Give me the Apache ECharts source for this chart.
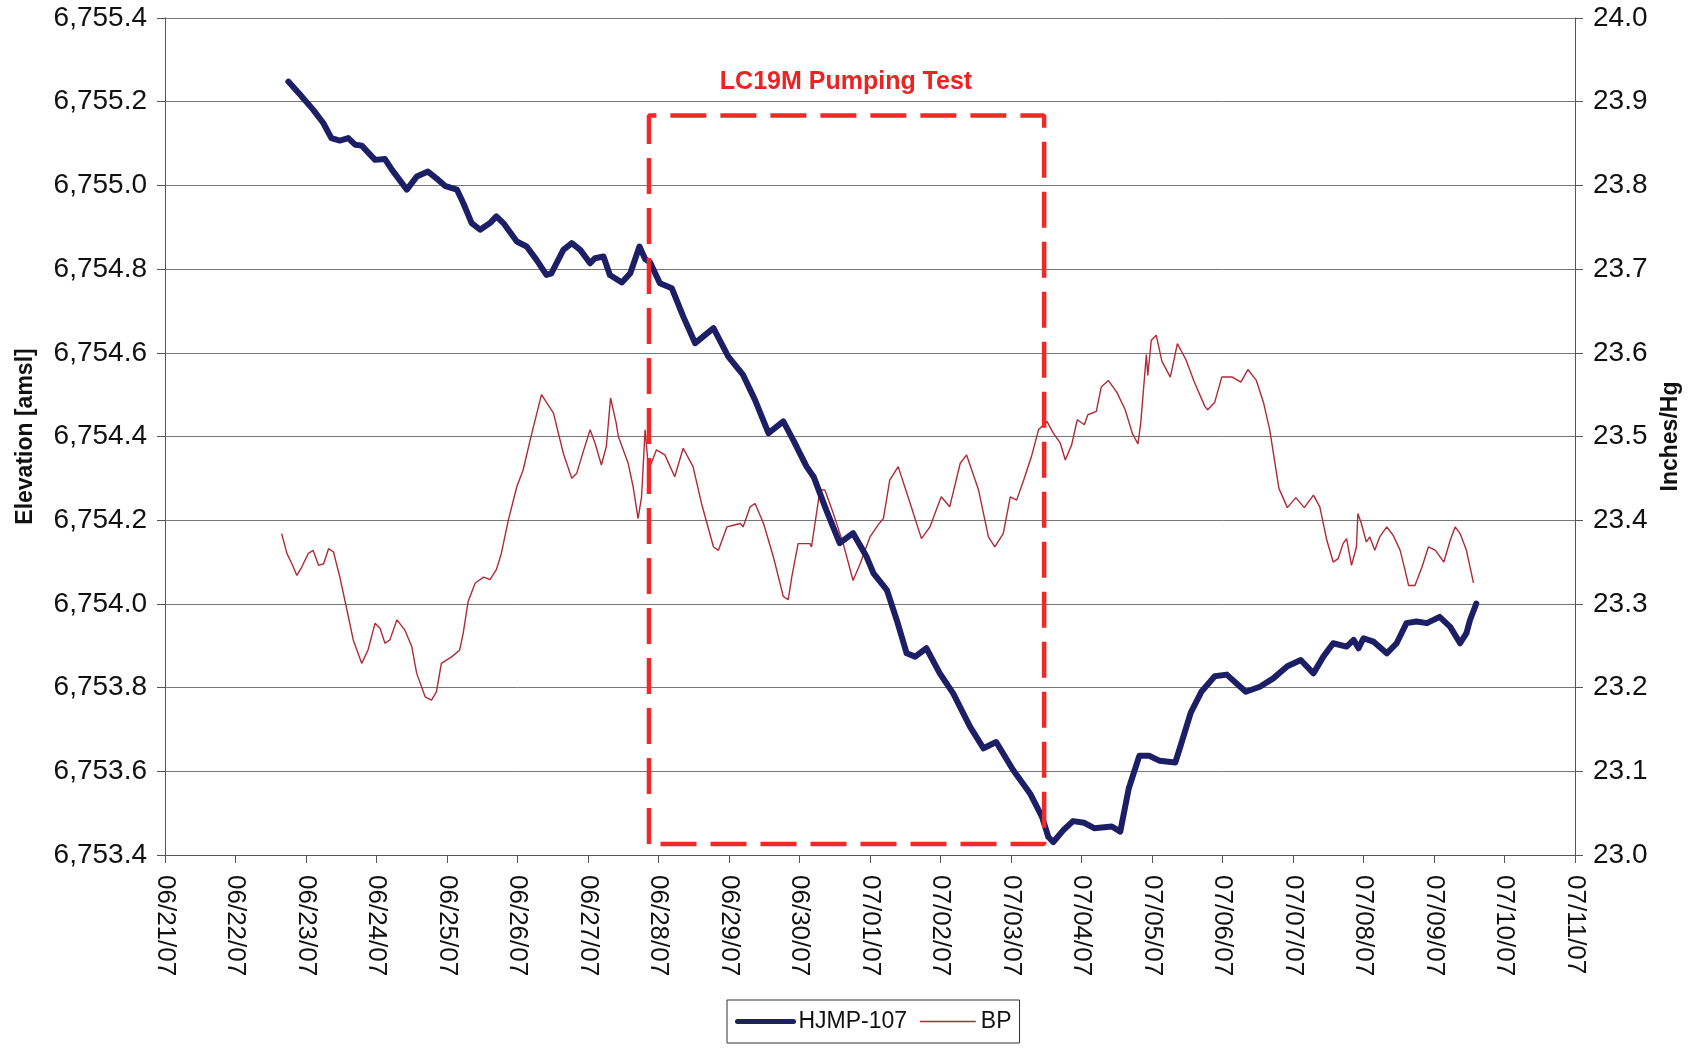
<!DOCTYPE html>
<html>
<head>
<meta charset="utf-8">
<title>HJMP-107 vs BP</title>
<script src="https://cdn.jsdelivr.net/npm/echarts@6/dist/echarts.min.js"></script>
<style>
  html, body { margin: 0; padding: 0; background: #fff; }
  #chart { width: 1696px; height: 1050px; }
</style>
</head>
<body>
<div id="chart"></div>
<script>
// x values are days since 06/21/07 00:00
const dateLabels = ['06/21/07', '06/22/07', '06/23/07', '06/24/07', '06/25/07', '06/26/07', '06/27/07',
  '06/28/07', '06/29/07', '06/30/07', '07/01/07', '07/02/07', '07/03/07', '07/04/07', '07/05/07',
  '07/06/07', '07/07/07', '07/08/07', '07/09/07', '07/10/07', '07/11/07'];

// HJMP-107 water level, ft amsl (left axis)
const hjmpDay = [1.75, 1.915, 2.10, 2.245, 2.36, 2.48, 2.60, 2.70, 2.79, 2.98, 3.12, 3.22, 3.43, 3.57, 3.73,
  3.85, 3.97, 4.14, 4.23, 4.35, 4.47, 4.61, 4.70, 4.80, 4.99, 5.13, 5.27, 5.41, 5.48, 5.65, 5.77, 5.89,
  6.03, 6.10, 6.22, 6.31, 6.48, 6.60, 6.73, 6.81, 6.88, 7.02, 7.19, 7.35, 7.52, 7.78, 7.99, 8.20, 8.37,
  8.56, 8.77, 8.91, 9.10, 9.20, 9.38, 9.57, 9.76, 9.95, 10.05, 10.24, 10.38, 10.52, 10.64, 10.80, 10.99,
  11.18, 11.42, 11.61, 11.79, 12.03, 12.27, 12.44, 12.53, 12.60, 12.74, 12.88, 13.04, 13.18, 13.43, 13.55,
  13.67, 13.82, 13.96, 14.11, 14.33, 14.40, 14.55, 14.70, 14.89, 15.06, 15.33, 15.53, 15.72, 15.92, 16.11,
  16.29, 16.43, 16.57, 16.76, 16.86, 16.93, 17.00, 17.14, 17.33, 17.47, 17.61, 17.75, 17.90, 18.08, 18.23,
  18.37, 18.46, 18.51, 18.60];
const hjmpElev = [6755.248, 6755.217, 6755.181, 6755.149, 6755.113, 6755.107, 6755.113, 6755.097, 6755.095,
  6755.061, 6755.063, 6755.037, 6754.990, 6755.021, 6755.033, 6755.017, 6754.999, 6754.990, 6754.958,
  6754.910, 6754.894, 6754.910, 6754.926, 6754.910, 6754.866, 6754.854, 6754.822, 6754.786, 6754.790,
  6754.846, 6754.862, 6754.846, 6754.814, 6754.826, 6754.830, 6754.786, 6754.768, 6754.790, 6754.854,
  6754.824, 6754.816, 6754.766, 6754.754, 6754.687, 6754.623, 6754.659, 6754.591, 6754.547, 6754.487,
  6754.408, 6754.436, 6754.392, 6754.328, 6754.304, 6754.224, 6754.145, 6754.169, 6754.113, 6754.073,
  6754.033, 6753.961, 6753.882, 6753.874, 6753.894, 6753.834, 6753.786, 6753.706, 6753.655, 6753.670,
  6753.603, 6753.547, 6753.491, 6753.443, 6753.431, 6753.459, 6753.481, 6753.477, 6753.464, 6753.468,
  6753.456, 6753.559, 6753.637, 6753.637, 6753.625, 6753.621, 6753.658, 6753.740, 6753.790, 6753.827,
  6753.831, 6753.790, 6753.802, 6753.822, 6753.851, 6753.866, 6753.834, 6753.874, 6753.906, 6753.898,
  6753.914, 6753.894, 6753.918, 6753.910, 6753.882, 6753.906, 6753.954, 6753.958, 6753.954, 6753.969,
  6753.945, 6753.906, 6753.930, 6753.961, 6754.001];

// barometric pressure, inches Hg (right axis)
const bpDay = [1.655, 1.73, 1.80, 1.87, 1.94, 2.03, 2.10, 2.18, 2.25, 2.32, 2.39, 2.48, 2.58, 2.67, 2.79,
  2.88, 2.98, 3.05, 3.12, 3.19, 3.29, 3.40, 3.50, 3.57, 3.69, 3.78, 3.85, 3.92, 4.07, 4.18, 4.23, 4.30,
  4.40, 4.52, 4.61, 4.70, 4.77, 4.87, 4.99, 5.08, 5.18, 5.34, 5.51, 5.65, 5.77, 5.84, 5.94, 6.03, 6.10,
  6.19, 6.26, 6.32, 6.40, 6.43, 6.57, 6.64, 6.71, 6.76, 6.81, 6.86, 6.97, 7.09, 7.23, 7.35, 7.49, 7.61,
  7.78, 7.85, 7.97, 8.06, 8.16, 8.20, 8.30, 8.37, 8.49, 8.63, 8.77, 8.84, 8.89, 8.98, 9.15, 9.17, 9.29,
  9.36, 9.48, 9.62, 9.76, 9.86, 10.00, 10.12, 10.19, 10.28, 10.40, 10.57, 10.73, 10.85, 11.01, 11.13,
  11.28, 11.37, 11.54, 11.68, 11.77, 11.89, 11.99, 12.08, 12.18, 12.29, 12.39, 12.51, 12.60, 12.70, 12.77,
  12.86, 12.94, 13.04, 13.09, 13.21, 13.28, 13.38, 13.50, 13.62, 13.72, 13.80, 13.84, 13.92, 13.94, 13.99,
  14.06, 14.14, 14.26, 14.36, 14.48, 14.60, 14.75, 14.79, 14.89, 14.99, 15.14, 15.26, 15.36, 15.48, 15.58,
  15.67, 15.80, 15.92, 16.04, 16.16, 16.29, 16.38, 16.48, 16.57, 16.64, 16.71, 16.76, 16.83, 16.90, 16.92,
  16.97, 17.04, 17.09, 17.16, 17.23, 17.33, 17.42, 17.52, 17.59, 17.64, 17.73, 17.83, 17.92, 18.02, 18.14,
  18.23, 18.30, 18.37, 18.46, 18.56];
const bpInHg = [23.384, 23.360, 23.348, 23.334, 23.344, 23.360, 23.364, 23.346, 23.348, 23.366, 23.362,
  23.332, 23.293, 23.257, 23.229, 23.245, 23.277, 23.271, 23.253, 23.257, 23.281, 23.269, 23.249, 23.217,
  23.189, 23.185, 23.195, 23.229, 23.237, 23.245, 23.265, 23.303, 23.325, 23.332, 23.329, 23.341, 23.360,
  23.400, 23.440, 23.460, 23.496, 23.550, 23.528, 23.480, 23.450, 23.456, 23.484, 23.508, 23.492, 23.466,
  23.488, 23.546, 23.516, 23.500, 23.468, 23.440, 23.402, 23.428, 23.508, 23.460, 23.484, 23.478, 23.452,
  23.486, 23.464, 23.420, 23.368, 23.364, 23.392, 23.394, 23.396, 23.392, 23.416, 23.420, 23.396, 23.356,
  23.309, 23.305, 23.332, 23.372, 23.372, 23.368, 23.436, 23.436, 23.408, 23.372, 23.328, 23.348, 23.380,
  23.395, 23.402, 23.448, 23.464, 23.420, 23.378, 23.392, 23.428, 23.416, 23.468, 23.478, 23.436, 23.380,
  23.368, 23.384, 23.428, 23.424, 23.448, 23.476, 23.508, 23.518, 23.504, 23.492, 23.472, 23.490, 23.520,
  23.514, 23.526, 23.530, 23.559, 23.567, 23.553, 23.532, 23.504, 23.491, 23.516, 23.598, 23.573, 23.615,
  23.621, 23.590, 23.571, 23.611, 23.592, 23.565, 23.536, 23.532, 23.541, 23.571, 23.571, 23.565, 23.580,
  23.567, 23.541, 23.508, 23.438, 23.415, 23.427, 23.415, 23.430, 23.416, 23.376, 23.350, 23.354, 23.372,
  23.378, 23.346, 23.368, 23.408, 23.396, 23.374, 23.380, 23.364, 23.380, 23.392, 23.382, 23.364, 23.340,
  23.322, 23.322, 23.344, 23.368, 23.364, 23.350, 23.376, 23.392, 23.384, 23.364, 23.325];

// pumping test window (day range) and the box height on the elevation axis
const pumpDays = [6.865, 12.47];
const pumpElev = [6753.426, 6755.167];

const FONT = '"Liberation Sans", Arial, sans-serif';

function zip(xs, ys) {
  return xs.map((x, i) => [x, ys[i]]);
}

// 6754.2 -> "6,754.2"
function fmtElev(v) {
  let parts = v.toFixed(1).split('.');
  return parts[0].replace(/\B(?=(\d{3})+(?!\d))/g, ',') + '.' + parts[1];
}

const boxData = [
  [pumpDays[0], pumpElev[0]],
  [pumpDays[0], pumpElev[1]],
  [pumpDays[1], pumpElev[1]],
  [pumpDays[1], pumpElev[0]],
  [pumpDays[0], pumpElev[0]]
];

const AXIS_COLOR = '#555';
const X_LABEL = { color: '#111', fontSize: 26, fontFamily: FONT };
const Y_LABEL = { color: '#111', fontSize: 28, fontFamily: FONT };
const NAME_STYLE = { color: '#111', fontSize: 23, fontWeight: 'bold', fontFamily: FONT };

let chart = echarts.init(document.getElementById('chart'));
let option = {
  backgroundColor: '#fff',
  animation: false,
  grid: { left: 165, right: 121, top: 18, bottom: 195 },
  legend: {
    data: [
      { name: 'HJMP-107', lineStyle: { width: 5 } },
      { name: 'BP', lineStyle: { width: 1.4 } }
    ],
    left: 727,
    top: 1000,
    padding: [10, 8],
    itemWidth: 56,
    itemHeight: 14,
    itemGap: 12,
    borderColor: '#333',
    borderWidth: 1,
    itemStyle: { opacity: 0 },
    textStyle: { color: '#111', fontSize: 23, fontFamily: FONT }
  },
  graphic: [{
    type: 'text',
    x: 846,
    y: 82,
    style: {
      text: 'LC19M Pumping Test',
      fill: '#ee2222',
      font: 'bold 25px ' + FONT,
      textAlign: 'center',
      textVerticalAlign: 'middle'
    }
  }],
  xAxis: [{
    type: 'value',
    min: 0,
    max: 20,
    interval: 1,
    axisLine: { lineStyle: { color: AXIS_COLOR, width: 1 } },
    axisTick: { length: 8, lineStyle: { color: AXIS_COLOR } },
    axisLabel: Object.assign({}, X_LABEL, {
      rotate: -90,
      margin: 20,
      formatter: v => dateLabels[Math.round(v)]
    }),
    splitLine: { show: false }
  }],
  yAxis: [{
    type: 'value',
    min: 6753.4,
    max: 6755.4,
    interval: 0.2,
    name: 'Elevation [amsl]',
    nameLocation: 'middle',
    nameGap: 128,
    nameTextStyle: NAME_STYLE,
    axisLine: { show: true, lineStyle: { color: AXIS_COLOR, width: 1 } },
    axisTick: { show: true, length: 8, lineStyle: { color: AXIS_COLOR } },
    axisLabel: Object.assign({}, Y_LABEL, { margin: 18, formatter: fmtElev }),
    splitLine: { show: true, lineStyle: { color: '#777', width: 1 } }
  }, {
    type: 'value',
    min: 23.0,
    max: 24.0,
    interval: 0.1,
    position: 'right',
    name: 'Inches/Hg',
    nameLocation: 'middle',
    nameGap: 84,
    nameTextStyle: NAME_STYLE,
    axisLine: { show: true, lineStyle: { color: AXIS_COLOR, width: 1 } },
    axisTick: { show: true, length: 8, lineStyle: { color: AXIS_COLOR } },
    axisLabel: Object.assign({}, Y_LABEL, { margin: 18, formatter: v => v.toFixed(1) }),
    splitLine: { show: false }
  }],
  series: [{
    name: 'BP',
    type: 'line',
    yAxisIndex: 1,
    data: zip(bpDay, bpInHg),
    showSymbol: false,
    symbol: 'none',
    lineStyle: { color: '#b02a36', width: 1.4 },
    itemStyle: { color: '#b02a36' },
    z: 2
  }, {
    name: 'HJMP-107',
    type: 'line',
    yAxisIndex: 0,
    data: zip(hjmpDay, hjmpElev),
    showSymbol: false,
    symbol: 'none',
    lineStyle: { color: '#1c1f66', width: 6, join: 'round', cap: 'round' },
    itemStyle: { color: '#1c1f66' },
    z: 3
  }, {
    name: 'pumping',
    type: 'line',
    yAxisIndex: 0,
    data: boxData,
    silent: true,
    showSymbol: false,
    symbol: 'none',
    lineStyle: { color: '#f02828', width: 4.5, type: [36, 14] },
    z: 4
  }]
};
chart.setOption(option);
</script>
</body>
</html>
